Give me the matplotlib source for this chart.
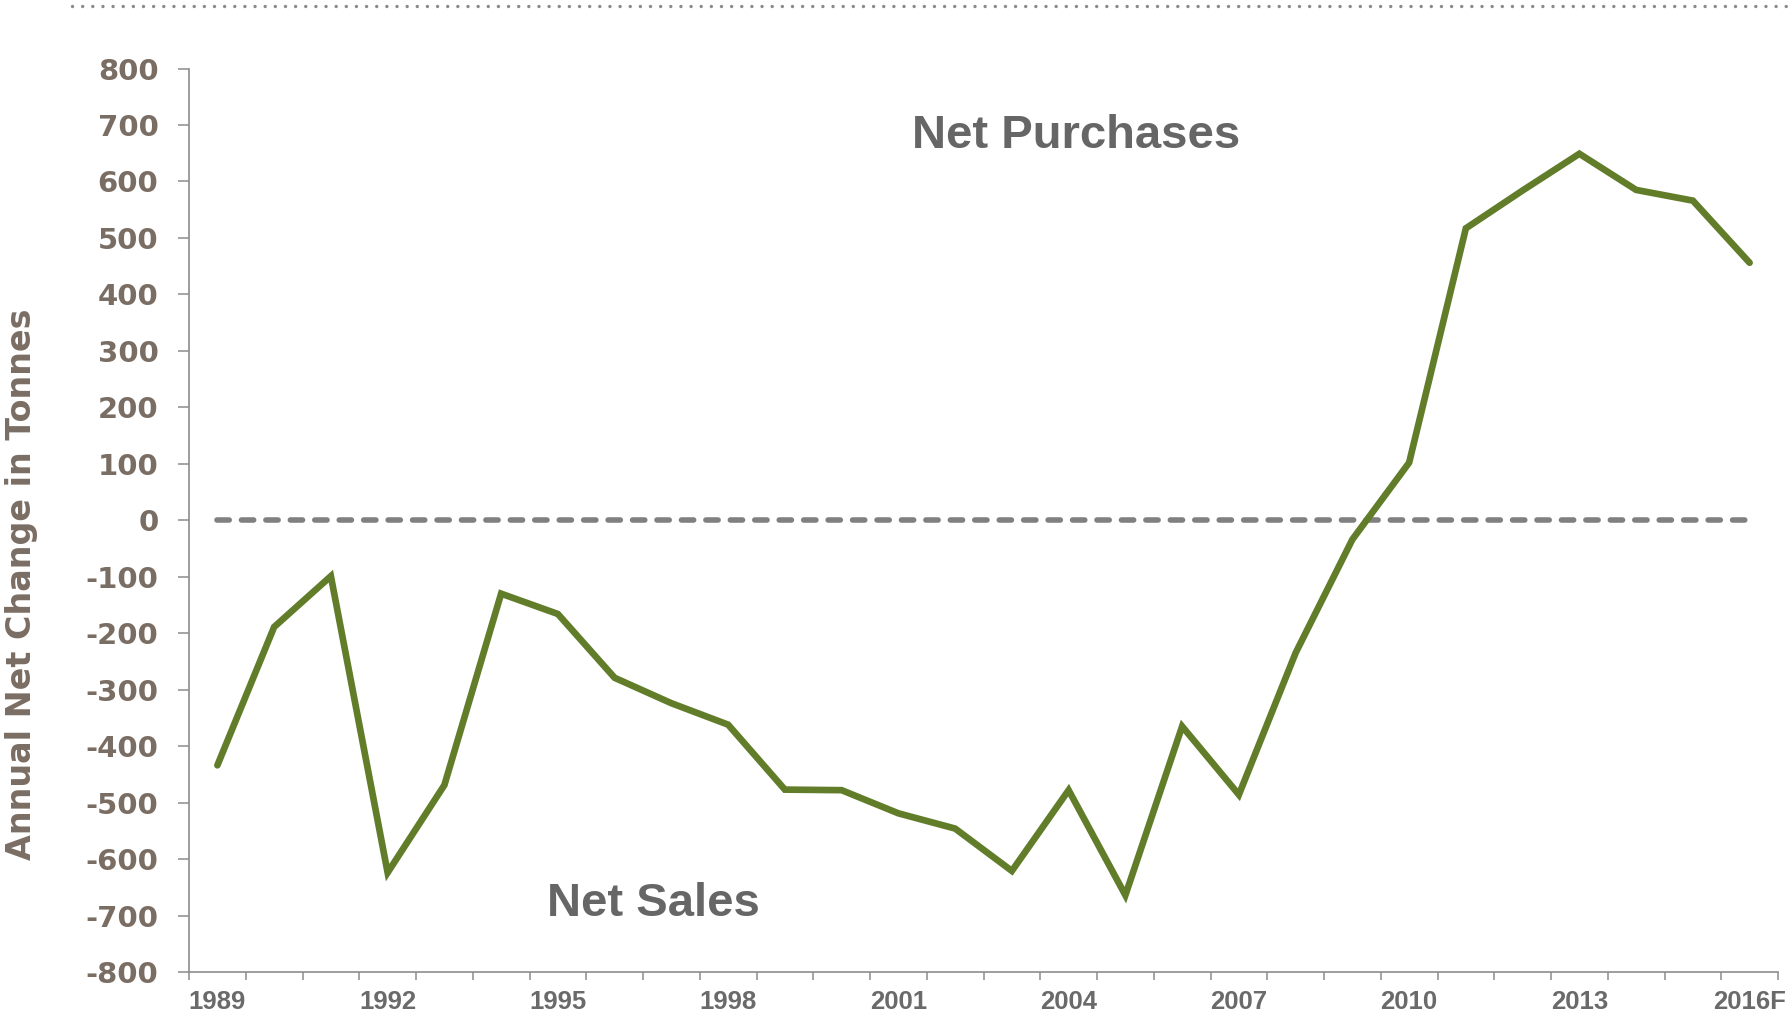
import numpy as np
import matplotlib
matplotlib.use("Agg")
import matplotlib.pyplot as plt
from matplotlib.lines import Line2D

plt.rcParams["axes.unicode_minus"] = False

# annual net change in official gold holdings, tonnes
years = [str(y) for y in range(1989, 2016)] + ["2016F"]
net_change = [-434, -189, -99, -624, -469, -130, -166, -279, -324, -362,
              -477, -478, -519, -546, -621, -478, -664, -365, -486, -235,
              -34, 102, 517, 584, 649, 585, 566, 456]
label_years = years[::3]

LINE_GREEN = "#627d2a"
AXIS_GRAY = "#8c8c8c"
YTICK_BROWN = "#7a6e64"
TEXT_GRAY = "#666666"

W, H = 1789, 1017
fig = plt.figure(figsize=(W / 100, H / 100), dpi=100)
ax = fig.add_axes([189 / W, 1 - 972 / H, (1778 - 189) / W, (972 - 68.5) / H])

x = np.arange(len(years))

# zero reference line
ax.plot([x[0], x[-1]], [0, 0], color="#808080", lw=4.0,
        dashes=(2.2, 2.2), dash_capstyle="round", zorder=2)

ax.plot(x, net_change, color=LINE_GREEN, lw=4.8,
        solid_joinstyle="miter", solid_capstyle="round", zorder=3)

ax.set_xlim(-0.5, len(years) - 0.5)
ax.set_ylim(-800, 800)

for side in ("top", "right"):
    ax.spines[side].set_visible(False)
for side in ("left", "bottom"):
    ax.spines[side].set_color(AXIS_GRAY)
    ax.spines[side].set_linewidth(1.2)

ax.set_yticks(np.arange(-800, 801, 100))
ax.tick_params(axis="y", length=8, width=1.1, color=AXIS_GRAY, pad=14,
               labelsize=21, labelcolor=YTICK_BROWN)
for lbl in ax.get_yticklabels():
    lbl.set_fontweight("bold")
    lbl.set_family("DejaVu Sans")

# category boundaries carry the tick marks, labels sit every third year
ax.set_xticks(np.arange(-0.5, len(years), 1))
ax.set_xticklabels([])
ax.tick_params(axis="x", which="major", length=6, width=1.1, color=AXIS_GRAY)
ax.set_xticks(x[::3], minor=True)
ax.set_xticklabels(label_years, minor=True, fontsize=18.5, fontweight="bold",
                   family="Liberation Sans", color="#6a6a6a")
ax.tick_params(axis="x", which="minor", length=0, pad=13)

fig.text(22 / W, 0.4258, "Annual Net Change in Tonnes", rotation=90,
         ha="center", va="center", fontsize=24, fontweight="bold",
         family="DejaVu Sans", color=YTICK_BROWN)

ax.text(15.13, 681, "Net Purchases", ha="center", va="center",
        fontsize=34, fontweight="bold", family="Liberation Sans", color=TEXT_GRAY)
ax.text(7.68, -679, "Net Sales", ha="center", va="center",
        fontsize=34, fontweight="bold", family="Liberation Sans", color=TEXT_GRAY)

# dotted rule across the top
fig.add_artist(Line2D([72 / W, 1.0], [1 - 6 / H, 1 - 6 / H], color="#8a8a8a",
                      lw=2.45, dashes=(0.01, 2.97), dash_capstyle="round"))

fig.savefig("out.png", dpi=100, facecolor="white")
